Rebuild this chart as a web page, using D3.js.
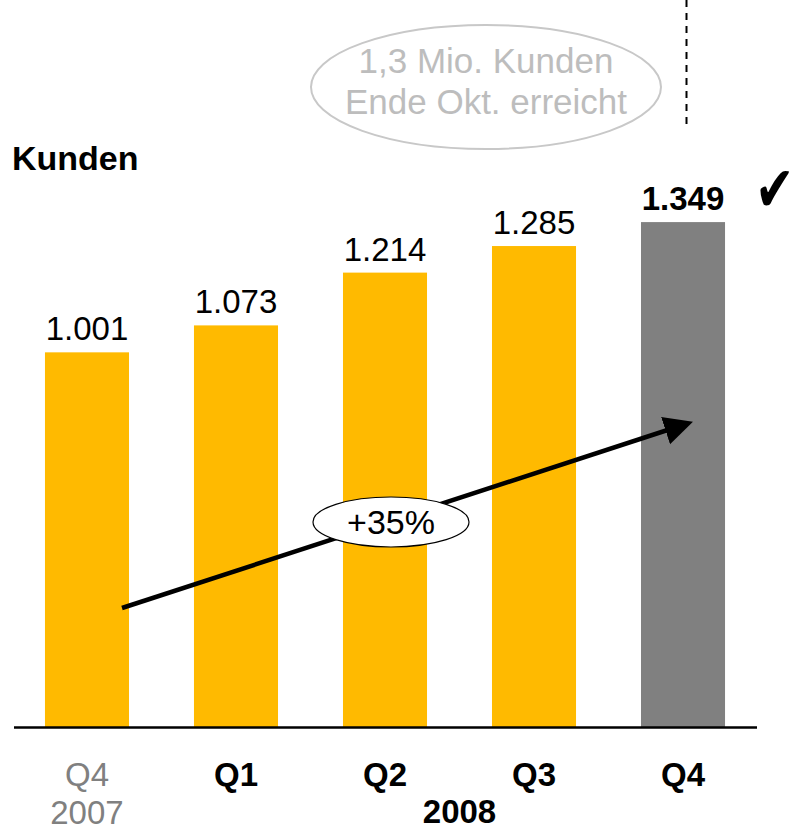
<!DOCTYPE html>
<meta charset="utf-8">
<script src="https://d3js.org/d3.v7.min.js"></script>
<style>
  body { margin: 0; background: #fff; }
  svg { display: block; font-family: "Liberation Sans", Arial, sans-serif; }
</style>
<div id="chart"></div>
<script>
  // data
  const quarters = ["Q4", "Q1", "Q2", "Q3", "Q4 "];
  const years = ["2007", "2008"];
  const customers = [1.001, 1.073, 1.214, 1.285, 1.349];
  const valueLabels = ["1.001", "1.073", "1.214", "1.285", "1.349"];
  const growthLabel = "+35%";
  const noteLines = ["1,3 Mio. Kunden", "Ende Okt. erreicht"];

  const width = 796, height = 830;
  const baseY = 727;

  const svg = d3.select("#chart").append("svg")
    .attr("width", width)
    .attr("height", height);

  const x = d3.scaleBand()
    .domain(quarters)
    .range([-20, 790])
    .padding(0.436);

  const y = d3.scaleLinear()
    .domain([0, 1.4])
    .range([baseY, 203]);

  const yellow = "#FFBA00", grey = "#808080";

  // bars
  svg.selectAll("rect.bar")
    .data(customers)
    .join("rect")
    .attr("class", "bar")
    .attr("x", (d, i) => x(quarters[i]))
    .attr("y", d => y(d))
    .attr("width", x.bandwidth())
    .attr("height", d => y(0) - y(d))
    .attr("fill", (d, i) => i === customers.length - 1 ? grey : yellow);

  // value labels
  svg.selectAll("text.val")
    .data(customers)
    .join("text")
    .attr("class", "val")
    .attr("x", (d, i) => x(quarters[i]) + x.bandwidth() / 2)
    .attr("y", d => y(d) - 12)
    .attr("text-anchor", "middle")
    .style("font-size", "33px")
    .style("font-weight", (d, i) => i === customers.length - 1 ? "bold" : "normal")
    .text((d, i) => valueLabels[i]);

  // baseline
  svg.append("line")
    .attr("x1", 14).attr("x2", 757)
    .attr("y1", baseY + 0.5).attr("y2", baseY + 0.5)
    .attr("stroke", "#000")
    .attr("stroke-width", 2.5);

  // x axis labels
  const axis = svg.append("g")
    .attr("transform", `translate(0,${baseY})`)
    .call(d3.axisBottom(x).tickSize(0).tickPadding(0).tickFormat(d => d.trim()));
  axis.select(".domain").remove();
  axis.selectAll("text")
    .attr("dy", 0)
    .attr("y", 59)
    .style("font-family", "Liberation Sans, Arial, sans-serif")
    .style("font-size", "33px")
    .style("font-weight", (d, i) => i === 0 ? "normal" : "bold")
    .attr("fill", (d, i) => i === 0 ? grey : "#000");

  svg.append("text")
    .attr("x", x(quarters[0]) + x.bandwidth() / 2)
    .attr("y", 824)
    .attr("text-anchor", "middle")
    .attr("fill", grey)
    .style("font-size", "33px")
    .text(years[0]);

  svg.append("text")
    .attr("x", (x(quarters[1]) + x(quarters[4]) + x.bandwidth()) / 2)
    .attr("y", 823)
    .attr("text-anchor", "middle")
    .style("font-size", "33px")
    .style("font-weight", "bold")
    .text(years[1]);

  // axis title
  svg.append("text")
    .attr("x", 12)
    .attr("y", 170)
    .style("font-size", "34px")
    .style("font-weight", "bold")
    .text("Kunden");

  // growth arrow
  const defs = svg.append("defs");
  defs.append("marker")
    .attr("id", "head")
    .attr("viewBox", "0 0 10 10")
    .attr("refX", 8).attr("refY", 5)
    .attr("markerWidth", 6.4).attr("markerHeight", 6.6)
    .attr("markerUnits", "strokeWidth")
    .attr("orient", "auto")
    .append("path")
    .attr("d", "M0,0 L10,5 L0,10 Z")
    .attr("fill", "#000");

  svg.append("line")
    .attr("x1", 122).attr("y1", 608)
    .attr("x2", 687.5).attr("y2", 423.5)
    .attr("stroke", "#000")
    .attr("stroke-width", 4.5)
    .attr("marker-end", "url(#head)");

  svg.append("ellipse")
    .attr("cx", 391).attr("cy", 522)
    .attr("rx", 78).attr("ry", 25)
    .attr("fill", "#fff")
    .attr("stroke", "#000")
    .attr("stroke-width", 1.2);

  svg.append("text")
    .attr("x", 391).attr("y", 534)
    .attr("text-anchor", "middle")
    .style("font-size", "34px")
    .text(growthLabel);

  // note bubble
  svg.append("ellipse")
    .attr("cx", 486).attr("cy", 87)
    .attr("rx", 175).attr("ry", 62)
    .attr("fill", "none")
    .attr("stroke", "#c8c8c8")
    .attr("stroke-width", 2);

  svg.selectAll("text.note")
    .data(noteLines)
    .join("text")
    .attr("class", "note")
    .attr("x", 486)
    .attr("y", (d, i) => 73 + i * 41)
    .attr("text-anchor", "middle")
    .attr("fill", "#bdbdbd")
    .style("font-size", "35px")
    .text(d => d);

  // dashed divider
  svg.append("line")
    .attr("x1", 686.5).attr("x2", 686.5)
    .attr("y1", 0).attr("y2", 126)
    .attr("stroke", "#000")
    .attr("stroke-width", 2)
    .attr("stroke-dasharray", "7,6");

  // check mark
  svg.append("text")
    .attr("transform", "translate(755,211) scale(1,1.35)")
    .style("font-family", "DejaVu Sans, sans-serif")
    .style("font-size", "47px")
    .text("\u2714");
</script>
